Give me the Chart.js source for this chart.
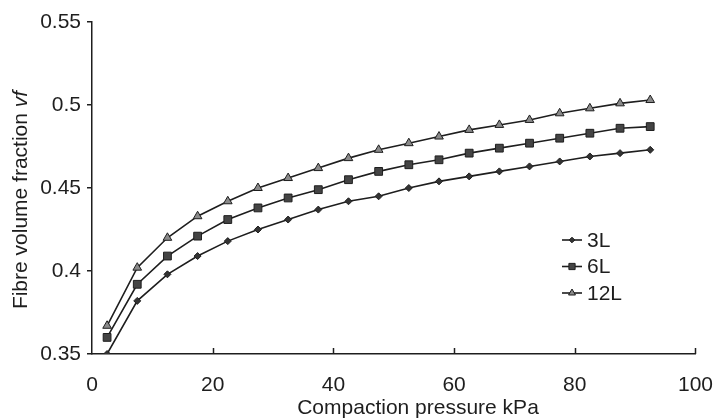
<!DOCTYPE html>
<html>
<head>
<meta charset="utf-8">
<script src="https://cdn.jsdelivr.net/npm/chart.js@4.4.1/dist/chart.umd.min.js"></script>
<style>
  html, body { margin: 0; padding: 0; background: #fff; }
  #wrap { width: 724px; height: 419px; position: relative; }
</style>
</head>
<body>
<div id="wrap"><canvas id="fvfChart"></canvas></div>
<script>
// DATA
const pressure = [2.5, 7.5, 12.5, 17.5, 22.5, 27.5, 32.5, 37.5, 42.5, 47.5,
  52.5, 57.5, 62.5, 67.5, 72.5, 77.5, 82.5, 87.5, 92.5];
const vf3L = [0.350, 0.382, 0.398, 0.409, 0.418, 0.425, 0.431, 0.437, 0.442, 0.445,
  0.450, 0.454, 0.457, 0.460, 0.463, 0.466, 0.469, 0.471, 0.473];
const vf6L = [0.360, 0.392, 0.409, 0.421, 0.431, 0.438, 0.444, 0.449, 0.455, 0.460,
  0.464, 0.467, 0.471, 0.474, 0.477, 0.480, 0.483, 0.486, 0.487];
const vf12L = [0.367, 0.402, 0.420, 0.433, 0.442, 0.450, 0.456, 0.462, 0.468, 0.473,
  0.477, 0.481, 0.485, 0.488, 0.491, 0.495, 0.498, 0.501, 0.503];
const seriesNames = ["3L", "6L", "12L"];
const xTicks = [0, 20, 40, 60, 80, 100];
const yTicks = [0.35, 0.4, 0.45, 0.5, 0.55];
const xTitle = "Compaction pressure kPa";
const yTitle = "Fibre volume fraction ";
const yTitleSym = "vf";

const ink = "#1e1e1e";
const fontFamily = "'Liberation Sans', Arial, sans-serif";

function pts(values) {
  return values.map((v, i) => ({ x: pressure[i], y: v }));
}

const markers = [
  { style: "rectRot", radius: 3.5, fill: "#333" },
  { style: "rect", radius: 5.5, fill: "#444" },
  { style: "triangle", radius: 5, fill: "#8a8a8a" },
];

const datasets = [vf3L, vf6L, vf12L].map((vals, i) => ({
  label: seriesNames[i],
  data: pts(vals),
  borderColor: ink,
  borderWidth: 1.6,
  backgroundColor: markers[i].fill,
  pointStyle: markers[i].style,
  pointRadius: markers[i].radius,
  pointBorderColor: ink,
  pointBorderWidth: 1,
  pointBackgroundColor: markers[i].fill,
  tension: 0,
}));

// axis titles, inward x ticks and legend
const extras = {
  id: "extras",
  afterDraw(chart) {
    const { ctx, chartArea: a, scales } = chart;
    const x = scales.x;
    ctx.save();

    ctx.strokeStyle = ink;
    ctx.lineWidth = 1.5;
    xTicks.slice(1).forEach((v) => {
      const px = Math.round(x.getPixelForValue(v)) + 0.5;
      ctx.beginPath();
      ctx.moveTo(px, a.bottom);
      ctx.lineTo(px, a.bottom - 6);
      ctx.stroke();
    });

    ctx.fillStyle = ink;
    ctx.textBaseline = "middle";
    ctx.font = "21px " + fontFamily;
    ctx.textAlign = "center";
    ctx.fillText(xTitle, a.left + 326, a.bottom + 54);

    // y title, with the symbol in italics
    ctx.save();
    ctx.translate(a.left - 71, a.top + 178);
    ctx.rotate(-Math.PI / 2);
    ctx.textAlign = "left";
    ctx.font = "21px " + fontFamily;
    const w1 = ctx.measureText(yTitle).width;
    ctx.font = "italic 21px " + fontFamily;
    const w2 = ctx.measureText(yTitleSym).width;
    const start = -(w1 + w2) / 2;
    ctx.font = "21px " + fontFamily;
    ctx.fillText(yTitle, start, 0);
    ctx.font = "italic 21px " + fontFamily;
    ctx.fillText(yTitleSym, start + w1, 0);
    ctx.restore();

    // legend
    ctx.font = "21px " + fontFamily;
    ctx.textAlign = "left";
    chart.data.datasets.forEach((ds, i) => {
      const ly = a.top + 218 + i * 26.5;
      const lx = a.left + 470;
      ctx.strokeStyle = ink;
      ctx.lineWidth = 1.6;
      ctx.beginPath();
      ctx.moveTo(lx, ly);
      ctx.lineTo(lx + 20, ly);
      ctx.stroke();
      ctx.fillStyle = ds.pointBackgroundColor;
      ctx.strokeStyle = ink;
      ctx.lineWidth = 1;
      Chart.helpers.drawPoint(ctx, {
        pointStyle: ds.pointStyle,
        radius: ds.pointRadius * 0.8,
        rotation: 0,
        borderWidth: 1,
      }, lx + 10, ly);
      ctx.fillStyle = ink;
      ctx.fillText(ds.label, lx + 25, ly + 1);
    });

    ctx.restore();
  },
};

const ctx = document.getElementById("fvfChart").getContext("2d");
new Chart(ctx, {
  type: "line",
  data: { datasets },
  plugins: [extras],
  options: {
    responsive: true,
    maintainAspectRatio: false,
    animation: false,
    layout: { padding: { top: 22, right: 21, left: 0, bottom: 0 } },
    plugins: {
      legend: { display: false },
      tooltip: { enabled: false },
    },
    scales: {
      x: {
        type: "linear",
        min: 0,
        max: 100,
        afterFit: (s) => { s.height = 65; },
        afterBuildTicks: (s) => { s.ticks = xTicks.map((v) => ({ value: v })); },
        grid: { display: false },
        border: { display: true, color: ink, width: 1.5 },
        ticks: {
          color: ink,
          padding: 11,
          maxRotation: 0,
          font: { family: fontFamily, size: 21 },
        },
      },
      y: {
        type: "linear",
        min: 0.35,
        max: 0.55,
        afterFit: (s) => { s.width = 92; },
        afterBuildTicks: (s) => { s.ticks = yTicks.map((v) => ({ value: v })); },
        grid: {
          drawOnChartArea: false,
          drawTicks: true,
          tickLength: 5,
          color: ink,
          lineWidth: 1.5,
        },
        border: { display: true, color: ink, width: 1.5 },
        ticks: {
          color: ink,
          padding: 6,
          font: { family: fontFamily, size: 21 },
          callback: (v) => String(Number(v.toFixed(2))),
        },
      },
    },
  },
});
</script>
</body>
</html>
